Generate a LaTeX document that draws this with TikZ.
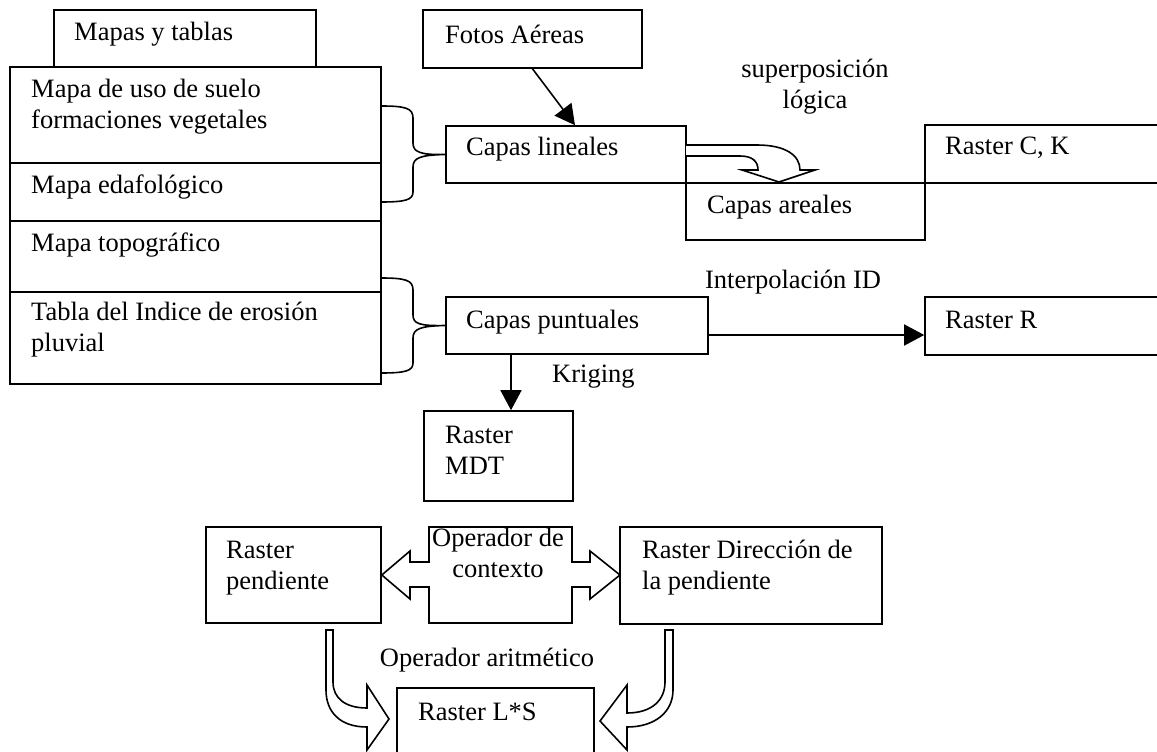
\documentclass[tikz,border=0pt]{standalone}
\usepackage{fontspec}
\setmainfont{Liberation Serif}
\usetikzlibrary{arrows.meta,fit,calc}
\begin{document}
\begin{tikzpicture}[x=1pt,y=-1pt,
  box/.style={draw,line width=1.6pt,inner sep=0pt},
  txt/.style={inner sep=0pt,anchor=west,align=left,font=\fontsize{26.5}{31}\selectfont},
  ctxt/.style={inner sep=0pt,align=center,font=\fontsize{26.5}{31}\selectfont},
  arr/.style={line width=1.6pt,-{Triangle[length=20pt,width=21pt]}},
  blockarrow/.style={draw,line width=1.6pt,line join=miter,fill=white},
  brace/.style={draw,line width=1.6pt}]
\clip (0,0) rectangle (1157,752);
\fill[white] (0,0) rectangle (1157,752);

% left column
\node[box,fit={(54,10) (316,67)}] (mapas) {};
\node[txt] (tmapas) at (74,34) {Mapas y tablas};
\node[box,fit={(10,67) (381,163)}] (uso) {};
\node[txt] (tuso) at (31,107) {Mapa de uso de suelo\\formaciones vegetales};
\node[box,fit={(10,163) (381,221)}] (edaf) {};
\node[txt] (tedaf) at (31,187) {Mapa edafológico};
\node[box,fit={(10,221) (381,292)}] (topo) {};
\node[txt] (ttopo) at (31,245) {Mapa topográfico};
\node[box,fit={(10,292) (381,384)}] (tabla) {};
\node[txt] (ttabla) at (31,330) {Tabla del Indice de erosión\\pluvial};

% top middle
\node[box,fit={(423,10) (642,68)}] (fotos) {};
\node[txt] (tfotos) at (445,34) {Fotos Aéreas};
\node[box,fit={(446,126) (686,183)}] (capl) {};
\node[txt] (tcapl) at (466,149) {Capas lineales};
\node[box,fit={(686,183) (925,240)}] (capa) {};
\node[txt] (tcapa) at (707,207) {Capas areales};
\node[box,fit={(925,125) (1175,183)}] (rck) {};
\node[txt] (trck) at (945,148) {Raster C, K};
\node[ctxt] (tsup) at (815,87) {superposición\\lógica};

% points
\node[box,fit={(446,297) (708,354)}] (capp) {};
\node[txt] (tcapp) at (466,322) {Capas puntuales};
\node[box,fit={(925,297) (1175,355)}] (rr) {};
\node[txt] (trr) at (945,320) {Raster R};
\node[ctxt] (tint) at (793,282) {Interpolación ID};
\node[txt] (tkri) at (552,377) {Kriging};
\node[box,fit={(424,411) (573,501)}] (mdt) {};
\node[txt] (tmdt) at (445,450) {Raster\\MDT};

% bottom
\node[box,fit={(206,527) (381,623)}] (rp) {};
\node[txt] (trp) at (226,568) {Raster\\pendiente};
\node[box,fit={(620,527) (882,624)}] (rd) {};
\node[txt] (trd) at (642,568) {Raster Dirección de\\la pendiente};
\node[box,fit={(397,688) (594,780)}] (rls) {};
\node[txt] (trls) at (418,712) {Raster L*S};
\node[ctxt] (tari) at (487,660) {Operador aritmético};

% braces
\draw[brace] (381,106) .. controls (405,106) and (413,108) .. (413,118) -- (413,143)
  .. controls (413,152) and (420,155) .. (capl.west)
  .. controls (420,155) and (413,158) .. (413,167) -- (413,192)
  .. controls (413,200) and (405,202) .. (381,202);
\draw[brace] (381,278) .. controls (405,278) and (413,280) .. (413,290) -- (413,315)
  .. controls (413,324) and (420,326) .. (capp.west)
  .. controls (420,326) and (413,329) .. (413,338) -- (413,363)
  .. controls (413,371) and (405,373) .. (381,373);

% arrows
\draw[arr] (fotos.south) -- ([xshift=9pt]capl.north);
\draw[arr] ([yshift=-9.5pt]capp.east) -- ([yshift=-9pt]rr.west);
\draw[arr] ([xshift=-66pt]capp.south) -- ([xshift=12.5pt]mdt.north);

% superposicion block arrow
\draw[blockarrow] (686,145) -- (757,145) .. controls (785,145) and (800,155) .. (800,170)
  -- (815,170) -- (779,182) -- (742,170) -- (758,170)
  .. controls (758,161) and (752,156) .. (740,156) -- (686,156);

% context double arrow
\draw[blockarrow] (429,527) -- (572,527) -- (572,562) -- (590,562) -- (590,551) -- (620,575)
  -- (590,599) -- (590,587) -- (572,587) -- (572,623) -- (429,623) -- (429,587)
  -- (410,587) -- (410,599) -- (rp.east) -- (410,551) -- (410,562) -- (429,562) -- cycle;
\node[ctxt] (tctx) at (498,553) {Operador de\\contexto};

% curved arrows to L*S
\draw[blockarrow] (326,630) -- (333,630) -- (333,682) .. controls (333,698) and (345,708) .. (367,708)
  -- (367,685) -- (389,719) -- (367,750) -- (367,727)
  .. controls (340,727) and (326,712) .. (326,690) -- cycle;
\draw[blockarrow] (673,630) -- (665,630) -- (665,682) .. controls (665,700) and (652,713) .. (627,713)
  -- (627,685) -- (600,721) -- (627,750) -- (627,727)
  .. controls (655,727) and (673,712) .. (673,690) -- cycle;
\end{tikzpicture}
\end{document}
